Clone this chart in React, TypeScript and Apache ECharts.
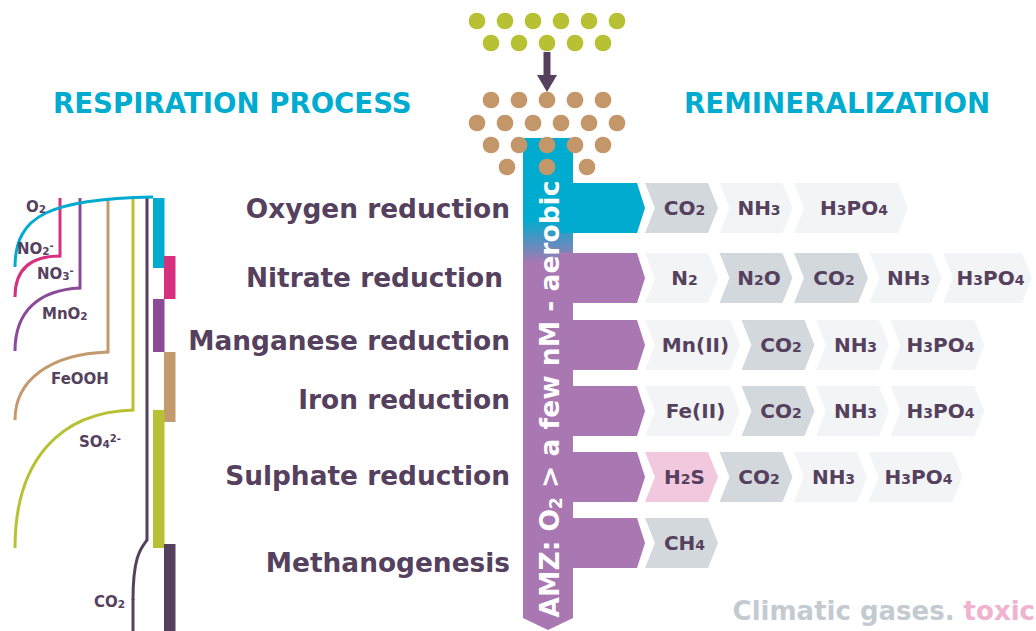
import React, { useEffect, useRef } from 'react';
import * as echarts from 'echarts';

// ---------- DATA ----------
const titleLeft = 'RESPIRATION PROCESS';
const titleRight = 'REMINERALIZATION';
const processes = [
  'Oxygen reduction',
  'Nitrate reduction',
  'Manganese reduction',
  'Iron reduction',
  'Sulphate reduction',
  'Methanogenesis',
];
const productLabels = [
  ['CO2', 'NH3', 'H3PO4'],
  ['N2', 'N2O', 'CO2', 'NH3', 'H3PO4'],
  ['Mn(II)', 'CO2', 'NH3', 'H3PO4'],
  ['Fe(II)', 'CO2', 'NH3', 'H3PO4'],
  ['H2S', 'CO2', 'NH3', 'H3PO4'],
  ['CH4'],
];
const productKinds = [
  ['gas', 'other', 'other'],
  ['other', 'gas', 'gas', 'other', 'other'],
  ['other', 'gas', 'other', 'other'],
  ['other', 'gas', 'other', 'other'],
  ['toxic', 'gas', 'other', 'other'],
  ['gas'],
];
const speciesLabels = ['O2', 'NO2^-', 'NO3^-', 'MnO2', 'FeOOH', 'SO4^2-', 'CO2'];
const verticalNote = ['AMZ: O', '2', ' > a few nM - aerobic'];
const footerGas = 'Climatic gases.';
const footerToxic = 'toxic';

// ---------- LAYOUT ----------
const W = 1036;
const H = 631;
const FONT = '"DejaVu Sans", sans-serif';
const DARK = '#55415e';
const BLUE = '#00abd0';
const PURPLE = '#a977b1';
const KIND_COLORS: Record<string, string> = { gas: '#d3d8dc', other: '#f3f4f6', toxic: '#f2c8de' };

const rowTop = [183, 253, 320, 386, 452, 518];
const rowH = 50;
const labelY = [208, 277, 340, 399, 475, 562];
const labelRight = [510, 503, 510, 510, 510, 510];
const boxWidths = [
  [73, 73, 114],
  [73, 73, 74, 72, 89],
  [95, 73, 73, 94],
  [95, 73, 73, 94],
  [73, 73, 73, 94],
  [73],
];
const boxStart = 645;
const boxGap = 1.5;
const notch = 10;

const speciesPos = [
  [26, 207], [17, 249], [37, 274], [42, 314], [51, 379], [79, 442], [94, 602],
];

function chem(label: string, base: string, sub: string, sup: string) {
  const [main, charge] = label.split('^');
  let out = '';
  const re = /(\d+)|([^\d]+)/g;
  let m: RegExpExecArray | null;
  while ((m = re.exec(main))) {
    out += m[1] ? `{${sub}|${m[1]}}` : `{${base}|${m[2]}}`;
  }
  if (charge) out += `{${sup}|${charge}}`;
  return out;
}

function buildElements() {
  const els: any[] = [];

  // Titles
  els.push({
    type: 'text', x: 53, y: 103,
    style: { text: titleLeft, fill: BLUE, fontFamily: FONT, fontWeight: 'bold', fontSize: 27.6, align: 'left', verticalAlign: 'middle' },
  });
  els.push({
    type: 'text', x: 684, y: 103,
    style: { text: titleRight, fill: BLUE, fontFamily: FONT, fontWeight: 'bold', fontSize: 27.7, align: 'left', verticalAlign: 'middle' },
  });

  // Green dots
  const cx = 547;
  const dotRow = (n: number, y: number, color: string, step = 28) => {
    for (let i = 0; i < n; i++) {
      const x = cx + (i - (n - 1) / 2) * step;
      els.push({ type: 'circle', z: 5, shape: { cx: x, cy: y, r: 8.3 }, style: { fill: color } });
    }
  };
  dotRow(6, 21, '#b8c133');
  dotRow(5, 43, '#b8c133');

  // Arrow
  els.push({ type: 'rect', shape: { x: 543.5, y: 52, width: 7, height: 24 }, style: { fill: DARK } });
  els.push({ type: 'polygon', shape: { points: [[537, 75], [557, 75], [547, 92]] }, style: { fill: DARK } });

  // Vertical bar
  els.push({
    type: 'polygon', z: 1,
    shape: { points: [[523, 138], [573, 138], [573, 618], [548, 630], [523, 618]] },
    style: {
      fill: {
        type: 'linear', x: 0, y: 0, x2: 0, y2: 1,
        colorStops: [
          { offset: 0, color: BLUE },
          { offset: 0.165, color: BLUE },
          { offset: 0.255, color: PURPLE },
          { offset: 1, color: PURPLE },
        ],
      },
    },
  });

  // Brown dots
  dotRow(5, 100, '#c4976b');
  dotRow(6, 123, '#c4976b');
  dotRow(5, 145, '#c4976b');
  dotRow(3, 167, '#c4976b', 40);

  // Row arrows, labels, boxes
  processes.forEach((p, r) => {
    const t = rowTop[r];
    const b = t + rowH;
    const m = t + rowH / 2;
    els.push({
      type: 'polygon', z: 2,
      shape: { points: [[560, t], [637, t], [645, m], [637, b], [560, b]] },
      style: { fill: r === 0 ? BLUE : PURPLE },
    });
    els.push({
      type: 'text', x: labelRight[r], y: labelY[r],
      style: { text: p, fill: DARK, fontFamily: FONT, fontWeight: 'bold', fontSize: 26.4, align: 'right', verticalAlign: 'middle' },
    });
    let x0 = boxStart;
    productLabels[r].forEach((lab, i) => {
      const w = boxWidths[r][i];
      const x1 = x0 + w;
      els.push({
        type: 'polygon',
        shape: { points: [[x0, t], [x1 - notch, t], [x1, m], [x1 - notch, b], [x0, b], [x0 + notch, m]] },
        style: { fill: KIND_COLORS[productKinds[r][i]] },
      });
      els.push({
        type: 'text', x: (x0 + x1) / 2 + 3, y: m,
        style: {
          text: chem(lab, 'a', 's', 'p'),
          fill: DARK, fontFamily: FONT, fontWeight: 'bold', fontSize: 20,
          align: 'center', verticalAlign: 'middle',
          rich: {
            a: { fontFamily: FONT, fontWeight: 'bold', fontSize: 20, lineHeight: 24, fill: DARK },
            s: { fontFamily: FONT, fontWeight: 'bold', fontSize: 14, height: 20, verticalAlign: 'bottom', fill: DARK },
            p: { fontFamily: FONT, fontWeight: 'bold', fontSize: 12, verticalAlign: 'top', fill: DARK },
          },
        },
      });
      x0 = x1 + boxGap;
    });
  });

  // Vertical note
  els.push({
    type: 'text', z: 6, x: 549, y: 399, rotation: Math.PI / 2,
    style: {
      text: `{a|${verticalNote[0]}}{s|${verticalNote[1]}}{a|${verticalNote[2]}}`,
      fill: '#ffffff', align: 'center', verticalAlign: 'middle',
      fontFamily: FONT, fontWeight: 'bold', fontSize: 26.5,
      rich: {
        a: { fontFamily: FONT, fontWeight: 'bold', fontSize: 26.5, lineHeight: 32, fill: '#ffffff' },
        s: { fontFamily: FONT, fontWeight: 'bold', fontSize: 17, height: 18, verticalAlign: 'bottom', fill: '#ffffff' },
      },
    },
  });

  // Left diagram
  const lw = 3;
  const line = (x1: number, y1: number, x2: number, y2: number, c: string) =>
    els.push({ type: 'line', shape: { x1, y1, x2, y2 }, style: { stroke: c, lineWidth: lw, lineCap: 'butt' } });
  const bez = (p: number[], c: string) =>
    els.push({
      type: 'bezierCurve',
      shape: { x1: p[0], y1: p[1], cpx1: p[2], cpy1: p[3], cpx2: p[4], cpy2: p[5], x2: p[6], y2: p[7] },
      style: { stroke: c, lineWidth: lw, fill: 'none', lineCap: 'butt' },
    });

  const PINK = '#d6307f';
  const VIOLET = '#8b4b99';
  const TAN = '#c39a6d';
  const GREEN = '#b8c133';

  line(60, 198, 60, 257.5, PINK);
  bez([60, 256, 30, 256, 15, 270, 15, 297], PINK);
  line(80, 198, 80, 289.5, VIOLET);
  bez([80, 288, 40, 290, 15, 310, 15, 351], VIOLET);
  line(108, 200, 108, 353.5, TAN);
  bez([108, 352, 50, 354, 15, 380, 15, 420], TAN);
  line(133, 198, 133, 411.5, GREEN);
  bez([133, 410, 60, 412, 15, 460, 15, 548], GREEN);
  line(147, 198, 147, 541, DARK);
  bez([147, 540, 141, 548, 133, 556, 133, 600], DARK);
  line(133, 599, 133, 631, DARK);
  bez([15, 267, 15, 215, 50, 199, 153, 197], BLUE);

  const bars: [number, number, number, string][] = [
    [153, 198, 268, BLUE],
    [164, 256, 299, PINK],
    [153, 299, 352, VIOLET],
    [164, 352, 422, TAN],
    [153, 410, 548, GREEN],
    [164, 544, 631, DARK],
  ];
  bars.forEach(([x, y0, y1, c]) => {
    els.push({ type: 'rect', shape: { x, y: y0, width: 11.5, height: y1 - y0 }, style: { fill: c } });
  });

  speciesLabels.forEach((s, i) => {
    els.push({
      type: 'text', x: speciesPos[i][0], y: speciesPos[i][1],
      style: {
        text: chem(s, 'a', 's', 'p'),
        fill: DARK, align: 'left', verticalAlign: 'middle',
        fontFamily: FONT, fontWeight: 'bold', fontSize: 15,
        rich: {
          a: { fontFamily: FONT, fontWeight: 'bold', fontSize: 15, lineHeight: 18, fill: DARK },
          s: { fontFamily: FONT, fontWeight: 'bold', fontSize: 10.5, height: 14, verticalAlign: 'bottom', fill: DARK },
          p: { fontFamily: FONT, fontWeight: 'bold', fontSize: 10, verticalAlign: 'top', fill: DARK },
        },
      },
    });
  });

  // Footer
  els.push({
    type: 'text', x: 1035, y: 611,
    style: {
      text: `{g|${footerGas}} {p|${footerToxic}}`,
      align: 'right', verticalAlign: 'middle',
      fontFamily: FONT, fontWeight: 'bold', fontSize: 26, fill: '#c4cbd0',
      rich: {
        g: { fontFamily: FONT, fontWeight: 'bold', fontSize: 26, fill: '#c4cbd0' },
        p: { fontFamily: FONT, fontWeight: 'bold', fontSize: 26, fill: '#f0b2cf' },
      },
    },
  });

  return els;
}

export default function App() {
  const ref = useRef<HTMLDivElement>(null);
  useEffect(() => {
    if (!ref.current) return;
    const chart = echarts.init(ref.current, undefined, { renderer: 'svg' });
    chart.setOption({
      animation: false,
      backgroundColor: '#ffffff',
      graphic: { elements: buildElements() },
    });
    return () => chart.dispose();
  }, []);
  return (
    <div
      ref={ref}
      style={{ position: 'fixed', left: 0, top: 0, width: W, height: H, background: '#fff' }}
    />
  );
}
